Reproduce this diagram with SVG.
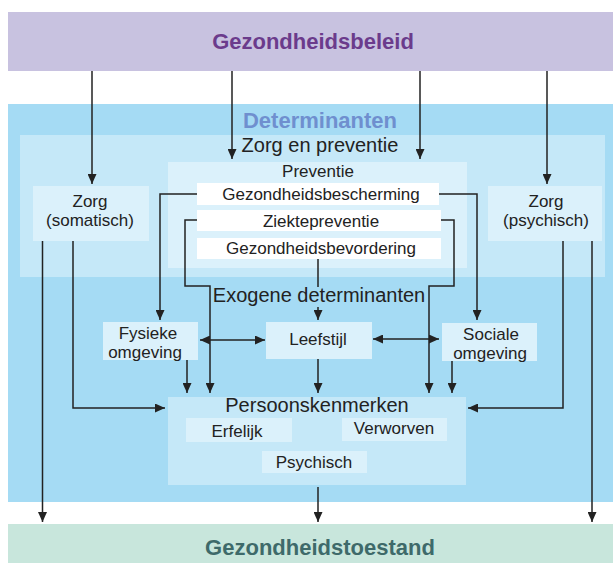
<svg xmlns="http://www.w3.org/2000/svg" width="613" height="563" viewBox="0 0 613 563">
<style>
.t{font-family:"Liberation Sans",Arial,sans-serif;fill:#222;text-anchor:middle}
.s17{font-size:17px}
.s20{font-size:20px}
.h{font-family:"Liberation Sans",Arial,sans-serif;font-weight:bold;font-size:22px;text-anchor:middle}
.box{fill:#dbf1fb}
.wbox{fill:#ffffff}
.panel{fill:#c5e8f8}
.ln{fill:none;stroke:#222;stroke-width:1.5}
.arr{marker-end:url(#ah)}
.dbl{marker-end:url(#ah);marker-start:url(#ah)}
</style>
<defs>
<marker id="ah" markerUnits="userSpaceOnUse" markerWidth="10" markerHeight="9" refX="10" refY="4.5" orient="auto-start-reverse">
<path d="M0,0 L10,4.5 L0,9 z" fill="#222"/>
</marker>
</defs>
<rect x="0" y="0" width="613" height="563" fill="#ffffff"/>
<g id="gezondheidsbeleid">
<rect x="8" y="12" width="605" height="59" fill="#c8c2e0"/>
<text class="h" x="313" y="49" fill="#6b3b8c">Gezondheidsbeleid</text>
</g>
<g id="determinanten">
<rect x="8" y="104" width="605" height="398" fill="#a5dbf4"/>
<text class="h" x="320" y="128" fill="#6f8fcf">Determinanten</text>
</g>
<g id="zorg-en-preventie">
<rect class="panel" x="20" y="135" width="585" height="142"/>
<text class="t s20" x="320" y="152">Zorg en preventie</text>
</g>
<g id="zorg-somatisch">
<rect class="box" x="33" y="186" width="116" height="55"/>
<text class="t s17" x="90" y="207">Zorg</text>
<text class="t s17" x="90" y="226">(somatisch)</text>
</g>
<g id="preventie">
<rect class="box" x="168" y="162" width="299" height="106"/>
<text class="t s17" x="318" y="177">Preventie</text>
</g>
<g id="gezondheidsbescherming">
<rect class="wbox" x="197" y="183" width="242" height="22"/>
<text class="t s17" x="321" y="200">Gezondheidsbescherming</text>
</g>
<g id="ziektepreventie">
<rect class="wbox" x="197" y="210" width="244" height="21"/>
<text class="t s17" x="321" y="227">Ziektepreventie</text>
</g>
<g id="gezondheidsbevordering">
<rect class="wbox" x="197" y="238" width="244" height="21"/>
<text class="t s17" x="321" y="254">Gezondheidsbevordering</text>
</g>
<g id="zorg-psychisch">
<rect class="box" x="488" y="186" width="114" height="55"/>
<text class="t s17" x="546" y="207">Zorg</text>
<text class="t s17" x="546" y="226">(psychisch)</text>
</g>
<g id="exogene-determinanten">
<text class="t s20" x="319" y="302">Exogene determinanten</text>
</g>
<g id="fysieke-omgeving">
<rect class="box" x="103" y="322" width="95" height="38"/>
<text class="t s17" x="148" y="339">Fysieke</text>
<text class="t s17" x="145" y="358">omgeving</text>
</g>
<g id="leefstijl">
<rect class="box" x="266" y="322" width="106" height="37"/>
<text class="t s17" x="318" y="345">Leefstijl</text>
</g>
<g id="sociale-omgeving">
<rect class="box" x="442" y="323" width="95" height="38"/>
<text class="t s17" x="491" y="340">Sociale</text>
<text class="t s17" x="490" y="359">omgeving</text>
</g>
<g id="persoonskenmerken">
<rect class="panel" x="168" y="397" width="298" height="88"/>
<text class="t s20" x="317" y="412">Persoonskenmerken</text>
</g>
<g id="erfelijk">
<rect class="box" x="186" y="418" width="106" height="24"/>
<text class="t s17" x="237" y="437">Erfelijk</text>
</g>
<g id="verworven">
<rect class="box" x="342" y="418" width="105" height="23"/>
<text class="t s17" x="394" y="434">Verworven</text>
</g>
<g id="psychisch">
<rect class="box" x="262" y="451" width="105" height="22"/>
<text class="t s17" x="314" y="468">Psychisch</text>
</g>
<g id="gezondheidstoestand">
<rect x="8" y="524" width="605" height="39" fill="#c8e6dc"/>
<text class="h" x="320" y="555" fill="#3e6a6a">Gezondheidstoestand</text>
</g>
<g id="connectors">
<line class="ln arr" x1="92" y1="71" x2="92" y2="184"/>
<line class="ln arr" x1="232" y1="71" x2="232" y2="159"/>
<line class="ln arr" x1="420" y1="71" x2="420" y2="159"/>
<line class="ln arr" x1="547" y1="71" x2="547" y2="184"/>
<line class="ln arr" x1="42.5" y1="241" x2="42.5" y2="522"/>
<polyline class="ln arr" points="73,241 73,408 165,408"/>
<line class="ln arr" x1="592" y1="241" x2="592" y2="522"/>
<polyline class="ln arr" points="563,241 563,408 468,408"/>
<polyline class="ln arr" points="197,194 160,194 160,320"/>
<polyline class="ln arr" points="439,194 477,194 477,320"/>
<polyline class="ln arr" points="197,220 185,220 185,286 210,286 210,393"/>
<polyline class="ln arr" points="441,220 454,220 454,286 429,286 429,393"/>
<line class="ln" x1="318" y1="259" x2="318" y2="287"/>
<line class="ln arr" x1="318" y1="307" x2="318" y2="320"/>
<line class="ln dbl" x1="200" y1="340" x2="265" y2="340"/>
<line class="ln dbl" x1="373" y1="339" x2="439" y2="339"/>
<line class="ln arr" x1="187" y1="360" x2="187" y2="393"/>
<line class="ln arr" x1="318" y1="359" x2="318" y2="393"/>
<line class="ln arr" x1="452" y1="361" x2="452" y2="393"/>
<line class="ln arr" x1="318" y1="487" x2="318" y2="522"/>
</g>
</svg>
